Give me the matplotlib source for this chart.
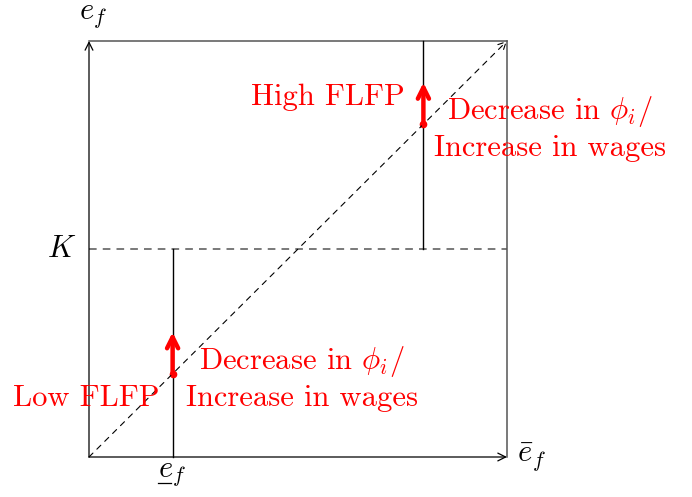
import matplotlib
matplotlib.use("Agg")
import matplotlib.pyplot as plt

plt.rcParams["font.family"] = "serif"
plt.rcParams["font.serif"] = ["cmr10", "DejaVu Serif"]
plt.rcParams["mathtext.fontset"] = "cm"
plt.rcParams["axes.unicode_minus"] = False
plt.rcParams["axes.formatter.use_mathtext"] = True

# Model quantities (unit box)
k_level = 0.5
low_e = 0.2
high_e = 0.8
shift = 0.1
red_text = "Decrease in $\\phi_i$/\nIncrease in wages"
low_label = "Low FLFP"
high_label = "High FLFP"

fig = plt.figure(figsize=(6.92, 4.97), dpi=100)
ax = fig.add_axes([0, 0, 1, 1])
ax.set_xlim(-89 / 418, (692 - 89) / 418)
ax.set_ylim(-40 / 416, (497 - 40) / 416)
ax.axis("off")

grey = "#555555"
axis_arrow = dict(arrowstyle="->", color="black", lw=0.9, shrinkA=0, shrinkB=0,
                  mutation_scale=14)

# axes with arrows
ax.annotate("", xy=(1, 0), xytext=(0, 0), arrowprops=axis_arrow)
ax.annotate("", xy=(0, 1), xytext=(0, 0), arrowprops=axis_arrow)
# box top and right
ax.plot([0, 1], [1, 1], color=grey, lw=1.1)
ax.plot([1, 1], [0, 1], color=grey, lw=1.1)
# 45-degree line
ax.annotate("", xy=(1, 1), xytext=(0, 0),
            arrowprops=dict(arrowstyle="->", color="black", lw=0.8, ls=(0, (5, 5)),
                            shrinkA=0, shrinkB=0, mutation_scale=14))
# threshold K
ax.plot([0, 1], [k_level, k_level], color=grey, lw=1.1, ls=(0, (5, 4)))
# vertical segments
ax.plot([low_e, low_e], [0, k_level], color="black", lw=1.0)
ax.plot([high_e, high_e], [k_level, 1], color="black", lw=1.0)

# red shift arrows
for e in (low_e, high_e):
    ax.plot([e], [e], "o", color="red", ms=4.5)
    ax.annotate("", xy=(e, e + shift), xytext=(e, e),
                arrowprops=dict(arrowstyle="->", color="red", lw=3.2,
                                shrinkA=0, shrinkB=0, mutation_scale=20))

fs = 22
ax.text(1.103, 0.791, red_text, color="red", fontsize=fs, ha="center",
        va="center", multialignment="center", linespacing=1.25)
ax.text(0.51, 0.19, red_text, color="red", fontsize=fs, ha="center",
        va="center", multialignment="center", linespacing=1.25)
ax.text(0.756, 0.865, high_label, color="red", fontsize=fs, ha="right", va="center")
ax.text(-0.007, 0.142, low_label, color="red", fontsize=fs, ha="center", va="center")

# axis labels
ax.text(0.01, 1.06, "$e_f$", fontsize=fs, ha="center", va="center")
ax.text(-0.065, 0.5, "$K$", fontsize=fs, ha="center", va="center")
ax.text(1.058, 0.0, "$\\bar{e}_f$", fontsize=fs, ha="center", va="center")
# lower bound label: e_f with a hand-drawn underline under the e
ax.text(0.165, -0.048, "$e_f$", fontsize=fs, ha="left", va="baseline")
ax.plot([0.165, 0.196], [-0.0625, -0.0625], color="black", lw=0.9)

fig.savefig("out.png", dpi=100)
